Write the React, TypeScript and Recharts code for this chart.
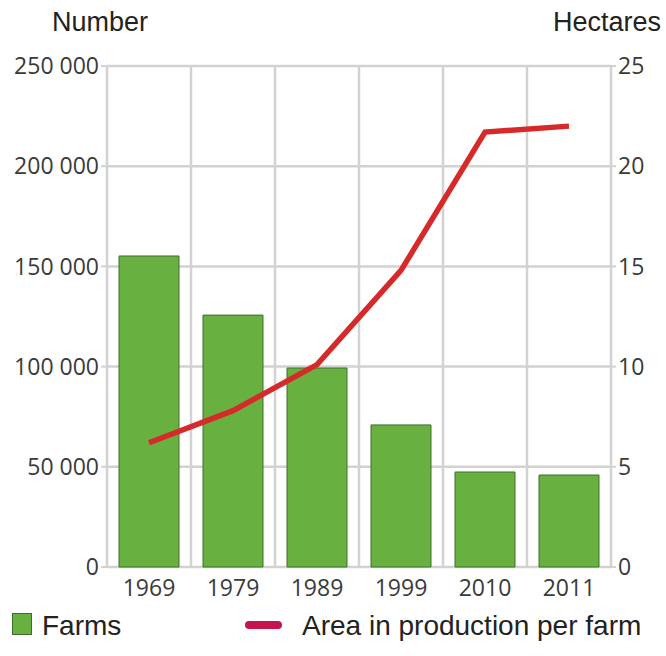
import { ComposedChart, Bar, Line, XAxis, YAxis, CartesianGrid, Legend } from 'recharts';

const years = ['1969', '1979', '1989', '1999', '2010', '2011'];
const farms = [155200, 125700, 99300, 70900, 47400, 45900];
const areaPerFarm = [6.2, 7.8, 10.1, 14.8, 21.7, 22.0];
const leftTicks = [0, 50000, 100000, 150000, 200000, 250000];
const rightTicks = [0, 5, 10, 15, 20, 25];

const data = years.map((year, i) => ({ year, farms: farms[i], area: areaPerFarm[i] }));

const TICK_FONT = '"Open Sans", sans-serif';
const LABEL_FONT = '"Liberation Sans", Arial, sans-serif';
const GRID = '#d2d2d2';

const fmt = (v: number) => v.toLocaleString('en-US').replace(/,/g, ' ');

const LegendContent = () => (
  <div style={{ position: 'relative', height: 53, fontFamily: LABEL_FONT, fontSize: 28, lineHeight: '31px', color: '#222' }}>
    <div style={{ position: 'absolute', left: 12, top: 10, width: 20, height: 22, background: '#68b140', border: '1px solid #3f6e2c', boxSizing: 'border-box' }} />
    <span style={{ position: 'absolute', left: 42, top: 7 }}>Farms</span>
    <div style={{ position: 'absolute', left: 245, top: 18, width: 37, height: 8, borderRadius: 4, background: '#c4164c' }} />
    <span style={{ position: 'absolute', left: 302, top: 7 }}>Area in production per farm</span>
  </div>
);

const App = () => {
  return (
    <div style={{ position: 'absolute', left: 0, top: 0, width: 666, height: 656, background: '#fff' }}>
      <div style={{ position: 'absolute', left: 52, top: 7, fontFamily: LABEL_FONT, fontSize: 27, lineHeight: '31px', color: '#222' }}>Number</div>
      <div style={{ position: 'absolute', left: 553, top: 7, fontFamily: LABEL_FONT, fontSize: 27, lineHeight: '31px', color: '#222' }}>Hectares</div>
      <ComposedChart
        width={666}
        height={656}
        data={data}
        margin={{ top: 66, right: 0, bottom: 0, left: 0 }}
        barSize={60}
      >
        <CartesianGrid
          stroke={GRID}
          strokeWidth={2.5}
          yAxisId="left"
          verticalCoordinatesGenerator={({ offset }: any) =>
            years.map((_, i) => offset.left + (i * offset.width) / years.length).concat(offset.left + offset.width)
          }
        />
        <XAxis
          dataKey="year"
          height={36}
          axisLine={false}
          tickLine={false}
          tickMargin={7}
          tick={{ fontFamily: TICK_FONT, fontSize: 23, fill: '#3a3a3a' }}
        />
        <YAxis
          yAxisId="left"
          width={107}
          domain={[0, 250000]}
          ticks={leftTicks}
          tickFormatter={fmt}
          axisLine={false}
          tickLine={{ stroke: GRID, strokeWidth: 2 }}
          tickSize={6}
          tick={{ fontFamily: TICK_FONT, fontSize: 23, fill: '#3a3a3a' }}
        />
        <YAxis
          yAxisId="right"
          orientation="right"
          width={55}
          domain={[0, 25]}
          ticks={rightTicks}
          axisLine={false}
          tickLine={{ stroke: GRID, strokeWidth: 2 }}
          tickSize={5}
          tick={{ fontFamily: TICK_FONT, fontSize: 23, fill: '#3a3a3a' }}
        />
        <Legend verticalAlign="bottom" height={53} content={<LegendContent />} />
        <Bar yAxisId="left" dataKey="farms" fill="#68b140" stroke="#3f6e2c" strokeWidth={1} isAnimationActive={false} />
        <Line
          yAxisId="right"
          dataKey="area"
          type="linear"
          stroke="#d62a2a"
          strokeWidth={5.5}
          dot={false}
          activeDot={false}
          isAnimationActive={false}
        />
      </ComposedChart>
    </div>
  );
};

export default App;
